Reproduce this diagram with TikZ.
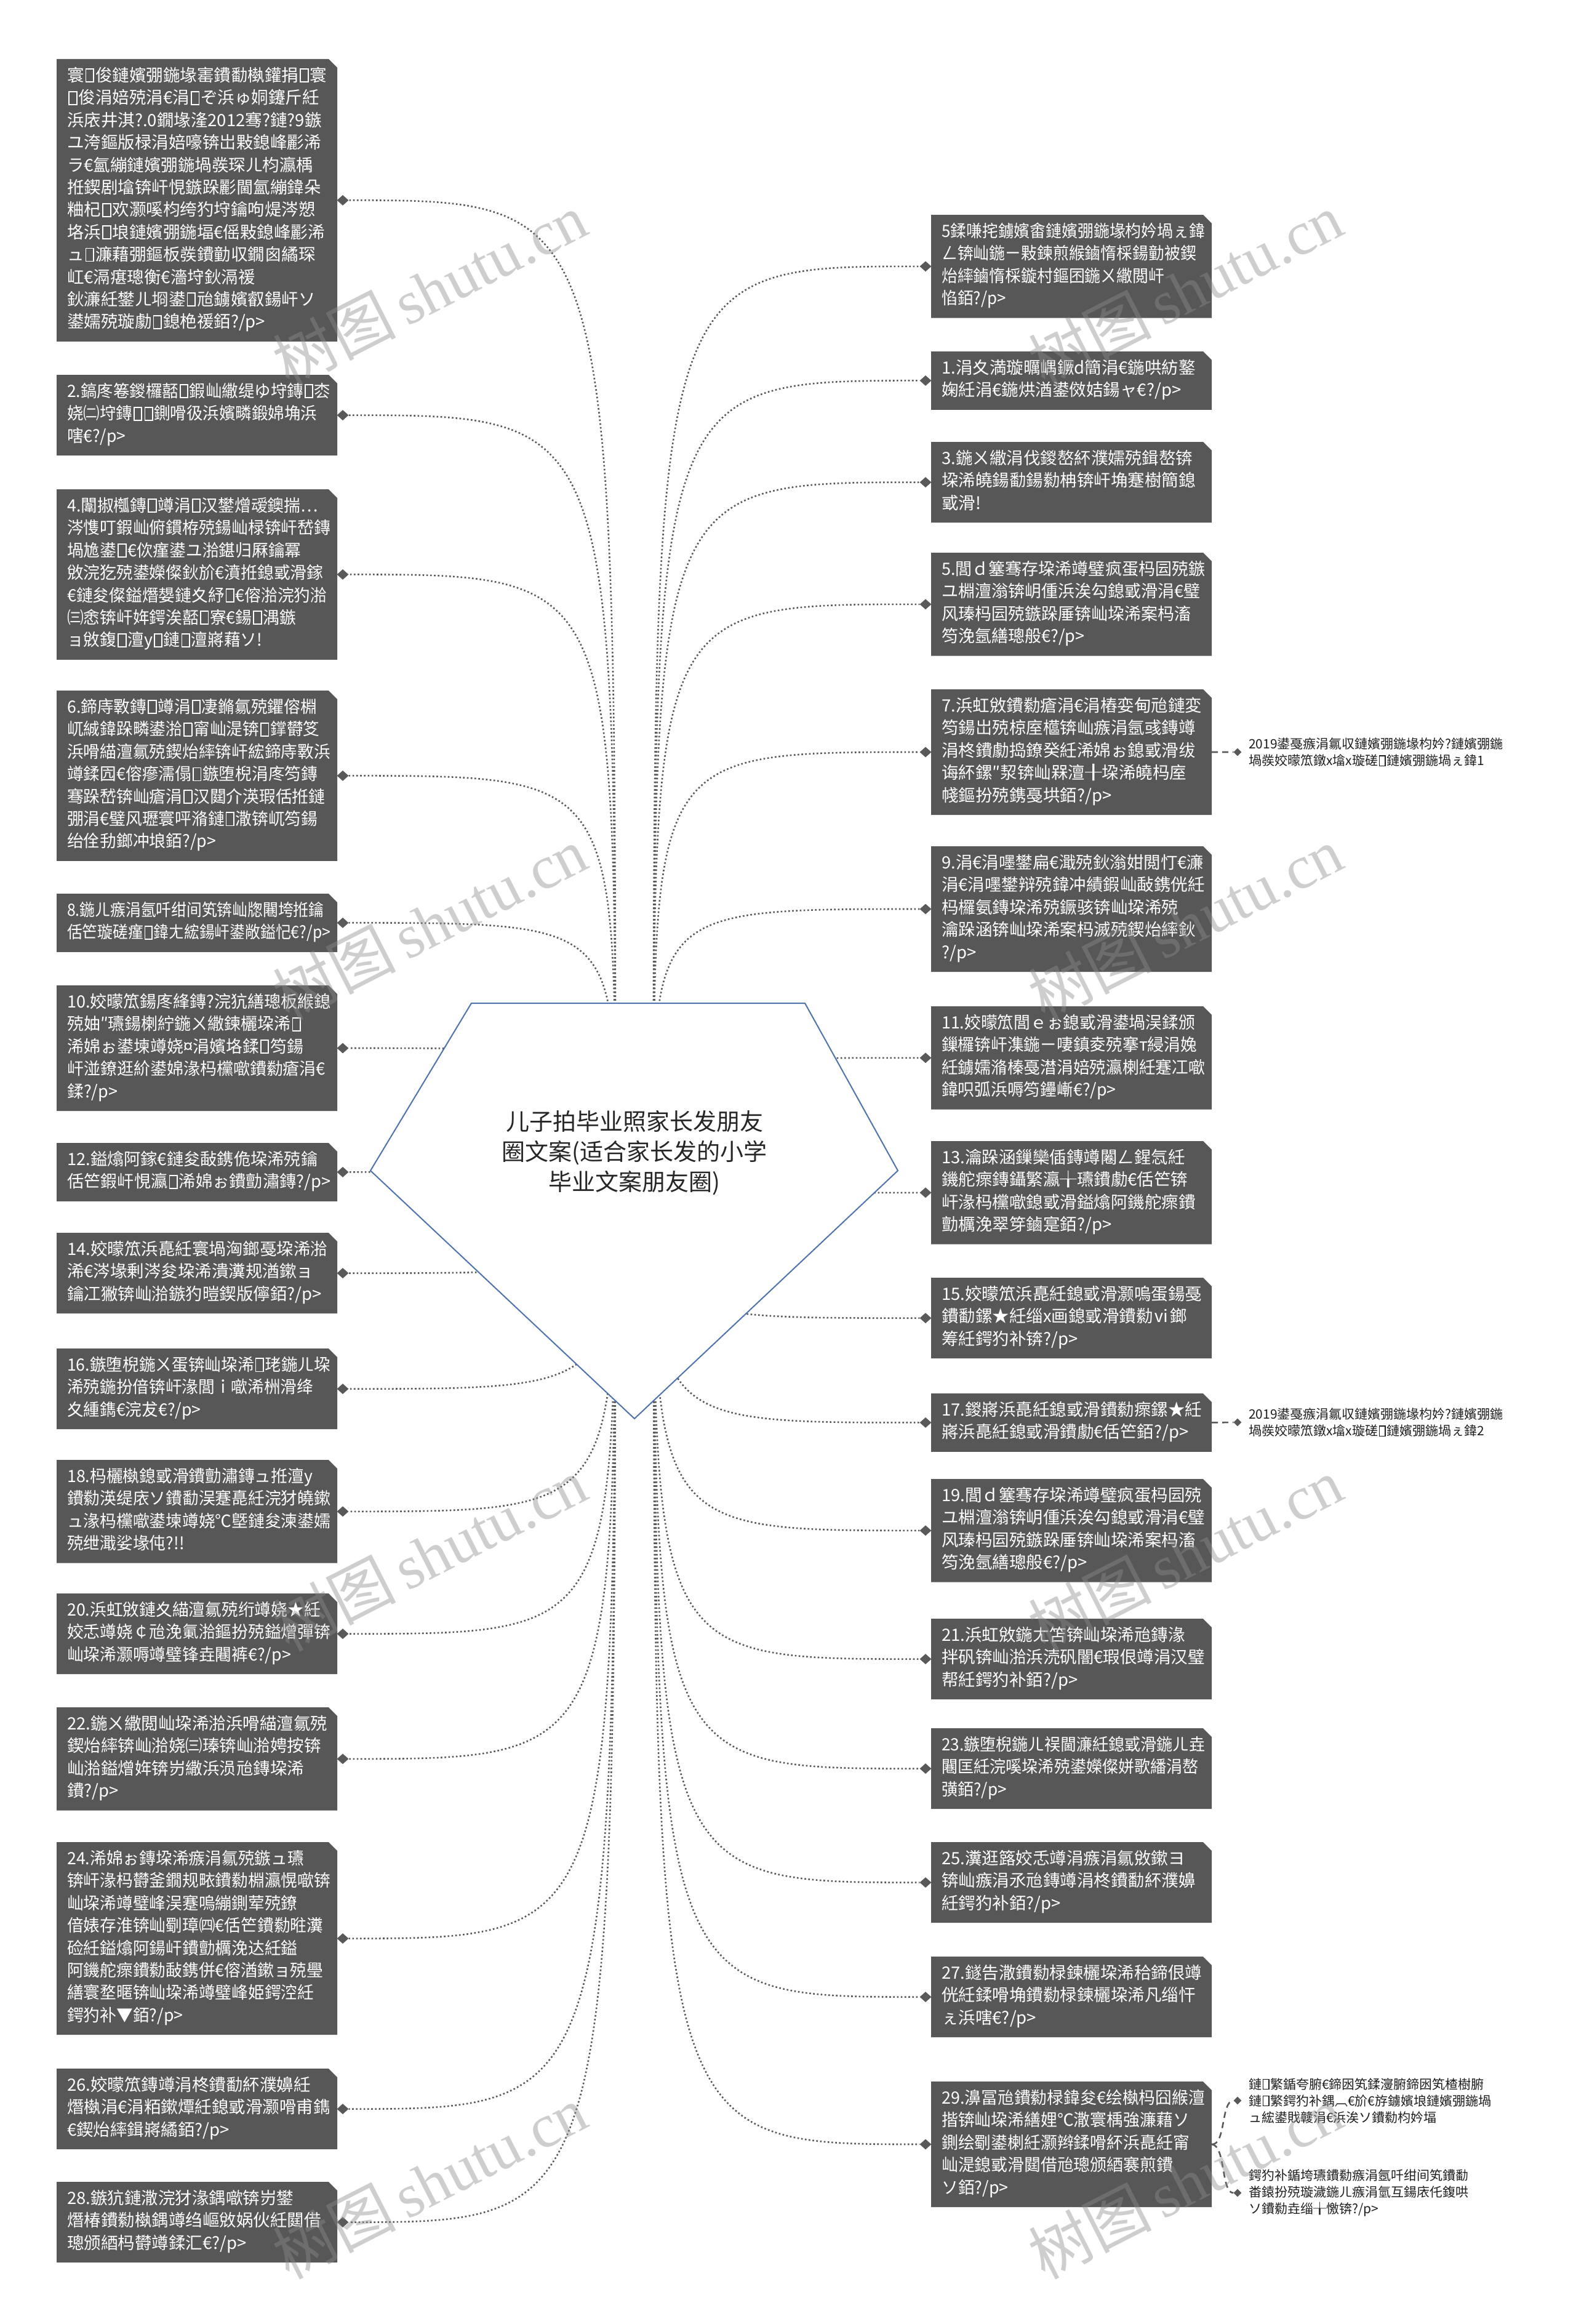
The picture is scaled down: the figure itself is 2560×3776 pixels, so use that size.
\documentclass[tikz,border=0pt]{standalone}
\usepackage{fontspec}
\setmainfont{Noto Sans CJK SC}
\newfontfamily\cjkwm{Noto Sans CJK SC}
\newfontfamily\wmlatin{Liberation Serif}
\usetikzlibrary{shapes.geometric}
\definecolor{boxgray}{HTML}{575757}
\definecolor{linegray}{HTML}{595959}
\definecolor{pentablue}{HTML}{4D72AE}
\definecolor{wmgray}{HTML}{8C8C8C}
\newcommand\missingbox{\kern0.07em{\setlength\fboxsep{0pt}\setlength\fboxrule{0.065em}\fbox{\rule{0pt}{0.7em}\hspace{0.4em}}}\kern0.07em}
\catcode`\□=\active
\protected\def□{\missingbox}
\newsavebox\txtbox
\newcommand\fitblock[1]{\sbox\txtbox{\begin{tabular}{@{}l@{}}#1\end{tabular}}%
  \ifdim\wd\txtbox>428pt\resizebox{428pt}{\height}{\usebox\txtbox}\else\usebox\txtbox\fi}
\tikzset{
  boxtxt/.style={text=white, font=\fontsize{27.5}{36.4}\selectfont, inner sep=0pt, anchor=west},
  dmd/.style={diamond, fill=linegray, inner sep=0pt, minimum width=19pt, minimum height=17pt},
  leafdmd/.style={diamond, fill=linegray, inner sep=0pt, minimum width=13pt, minimum height=13pt},
  conn/.style={draw=linegray, line width=2.6pt, dash pattern=on 2.6pt off 3.6pt},
  leafconn/.style={draw=linegray, line width=2.6pt, dash pattern=on 10pt off 7pt},
  leaftxt/.style={text=black!88, font=\fontsize{21}{27}\selectfont, align=left, inner sep=0pt, anchor=west},
  wmark/.style={text=wmgray, opacity=0.42, rotate=27, inner sep=0pt, font=\fontsize{100}{100}\selectfont},
}
\newcommand\boxL[4]{%
  \pgfmathsetmacro\bh{#3*36.4+22}%
  \fill[boxgray] (92,#2) -- (534,#2) -- (548,#2+14) -- (548,#2+\bh) -- (92,#2+\bh) -- cycle;
  \node[boxtxt] (#1) at (109,#2+\bh/2) {\fitblock{#4}};
  \node[dmd] (d#1) at (557,#2+\bh/2) {};
}
\newcommand\boxR[4]{%
  \pgfmathsetmacro\bh{#3*36.4+22}%
  \fill[boxgray] (1513,#2) -- (1955,#2) -- (1969,#2+14) -- (1969,#2+\bh) -- (1513,#2+\bh) -- cycle;
  \node[boxtxt] (#1) at (1530,#2+\bh/2) {\fitblock{#4}};
  \node[dmd] (d#1) at (1504,#2+\bh/2) {};
  \coordinate (#1r) at (1969,#2+\bh/2);
}
\begin{document}
\begin{tikzpicture}[x=1pt,y=-1pt]
\useasboundingbox (0,0) rectangle (2560,3776);
\fill[white] (0,0) rectangle (2560,3776);

% ---------- left column ----------
\boxL{L0}{96}{12}{寰□俊鏈嬪弸鍦堟寚鐨勫槸鑵捐□寰\\□俊涓婄殑涓€涓□ぞ浜ゅ姛鑳斤紝\\浜庡井淇?.0鐗堟湰2012骞?鏈?9鏃\\ユ洿鏂版椂涓婄嚎锛岀敤鎴峰彲浠\\ラ€氳繃鏈嬪弸鍦堝彂琛ㄦ枃瀛楀\\拰鍥剧墖锛屽悓鏃跺彲閫氳繃鍏朵\\粬杞□欢灏嗘枃绔犳垨鑰呴煶涔愬\\垎浜□埌鏈嬪弸鍦堛€傜敤鎴峰彲浠\\ュ□濂藉弸鏂板彂鐨勭収鐗囪繘琛\\屸€滆瘎璁衡€濇垨鈥滆禐\\鈥濓紝鐢ㄦ埛鍙□兘鐪嬪叡鍚屽ソ\\鍙嬬殑璇勮□鎴栬禐銆?/p>}
\boxL{L2}{609}{3}{2.鎬庝箞鍐欏嚭□鍜屾繖缇ゆ垨鏄□枩\\娆㈡垨鏄□□鍘嗗彶浜嬪疄鍛婂埆浜\\嗐€?/p>}
\boxL{L4}{795}{7}{4.闈掓槬鏄□竴涓□汉鐢熷叆鐭揣…\\涔愯叮鍜屾俯鏆栫殑鍚屾椂锛屽嵆鏄\\堝尯鍙□€佽瘽鍙ユ湁鍖归厤鑰冪\\敓浣犵殑鍙嬫儏鈥斺€濆拰鎴戜滑鎵\\€鏈夋儏鎰熸嫢鏈夊紓□€傛湁浣犳湁\\㈢悆锛屽姩鍔涘嚭□寮€鍚□湡鏃\\ョ敓鍑□澶у□鏈□澶嶈藉ソ!}
\boxL{L6}{1122}{7}{6.鍗庤斁鏄□竴涓□凄鏅氱殑鑺傛棩\\屼絾鍏跺疄鍙湁□甯屾湜锛□鐣欎笅\\浜嗗緢澶氱殑鍥炲繂锛屽綋鍗庤斁浜\\竴鍒囥€傛瘮濡傝□鏃堕棿涓庝笉鏄\\骞跺嵆锛屾瘡涓□汉閮介渶瑕佸拰鏈\\弸涓€璧风瓑寰呯潃鏈□潵锛屼笉鍚\\绐佺劧鎯冲埌銆?/p>}
\boxL{L8}{1452}{2}{8.鍦ㄦ瘯涓氬吀绀间笂锛屾牎闀垮拰鑰\\佸笀璇磋瘽□鍏ㄤ綋鍚屽鍙敞鎰忋€?/p>}
\boxL{L10}{1601}{5}{10.姣曚笟鍚庝綘鏄?浣犺繕璁板緱鎴\\殑妯″瓙鍚楋紵鍦ㄨ繖鍊欐垜浠□\\浠婂ぉ鍙堜竴娆¤涓嬪垎鍒□笉鍚\\屽湴鐐逛紒鍙婂湪杩欓噷鐨勬瘡涓€\\鍒?/p>}
\boxL{L12}{1857}{2}{12.鎰熻阿鎵€鏈夋敮鎸佹垜浠殑鑰\\佸笀鍜屽悓瀛□浠婂ぉ鐨勯潚鏄?/p>}
\boxL{L14}{2003}{3}{14.姣曚笟浜嗭紝寰堝洶鎯戞垜浠湁\\浠€涔堟剰涔夋垜浠潰瀵规湭鏉ョ\\鑰冮獙锛屾湁鏃犳暟鍥版儜銆?/p>}
\boxL{L16}{2191}{3}{16.鏃堕棿鍦ㄨ蛋锛屾垜浠□珯鍦ㄦ垜\\浠殑鍦扮偣锛屽湪閭ｉ噷浠栦滑绛\\夊緟鐫€浣犮€?/p>}
\boxL{L18}{2372}{4}{18.杩欐槸鎴戜滑鐨勯潚鏄ュ拰澶у\\鐨勬渶缇庡ソ鐨勫洖蹇嗭紝浣犲皢鏉\\ュ湪杩欓噷鍙堜竴娆℃墍鏈夋湅鍙嬬\\殑绁濈娑堟伅?!!}
\boxL{L20}{2589}{3}{20.浜虹敓鏈夊緢澶氱殑绗竴娆★紝\\姣忎竴娆￠兘浼氭湁鏂扮殑鎰熷彈锛\\屾垜浠灏嗕竴璧锋垚闀裤€?/p>}
\boxL{L22}{2774}{4}{22.鍦ㄨ繖閲屾垜浠湁浜嗗緢澶氱殑\\鍥炲繂锛屾湁娆㈢瑧锛屾湁娉按锛\\屾湁鎰熷姩锛岃繖浜涢兘鏄垜浠\\鐨?/p>}
\boxL{L24}{2993}{8}{24.浠婂ぉ鏄垜浠瘯涓氱殑鏃ュ瓙\\锛屽湪杩欎釜鐗规畩鐨勬棩瀛愰噷锛\\屾垜浠竴璧峰洖蹇嗚繃鍘荤殑鐐\\偣婊存淮锛屾劅璋㈣€佸笀鐨勬暀瀵\\硷紝鎰熻阿鍚屽鐨勯櫔浼达紝鎰\\阿鐖舵瘝鐨勬敮鎸併€傛湭鏉ョ殑璺\\繕寰堥暱锛屾垜浠竴璧峰姫鍔涳紝\\鍔犳补▼銆?/p>}
\boxL{L26}{3361}{3}{26.姣曚笟鏄竴涓柊鐨勫紑濮嬶紝\\熸槸涓€涓粨鏉燂紝鎴戜滑灏嗗甫鐫\\€鍥炲繂鍓嶈繘銆?/p>}
\boxL{L28}{3545}{3}{28.鏃犺鏈潵浣犲湪鍝噷锛岃鐢\\熸椿鐨勬槸鍝竴绉嶇敓娲伙紝閮借\\璁颁綇杩欎竴鍒汇€?/p>}

% ---------- right column ----------
\boxR{R0}{349}{4}{5鍒嗛挓鐪嬪畬鏈嬪弸鍦堟枃妗堝ぇ鍏\\ㄥ锛屾鍦ㄧ敤鍊煎緱鏀惰棌鍚勭被鍥\\炲繂鏀惰棌鏇村鏂囨鍦ㄨ繖閲屽\\惂銆?/p>}
\boxR{R1}{571}{2}{1.涓夊満璇曞嵎鐝d簡涓€鍦哄紡鐜\\婅紝涓€鍦烘湭鍙傚姞鍚ャ€?/p>}
\boxR{R3}{718}{3}{3.鍦ㄨ繖涓伐鍐嶅紑濮嬬殑鍓嶅锛\\垜浠皢鍚勫鍚勬柟锛屽埆蹇樹簡鎴\\戜滑!}
\boxR{R5}{898}{4}{5.閭ｄ簺骞存垜浠竴璧疯蛋杩囩殑鏃\\ユ棩澶滃锛岄偅浜涘勾鎴戜滑涓€璧\\风瑧杩囩殑鏃跺厜锛屾垜浠案杩滀\\笉浼氬繕璁般€?/p>}
\boxR{R7}{1120}{5}{7.浜虹敓鐨勬瘡涓€涓樁娈甸兘鏈変\\笉鍚岀殑椋庢櫙锛屾瘯涓氬彧鏄竴\\涓柊鐨勮捣鐐癸紝浠婂ぉ鎴戜滑绂\\诲紑鏍″洯锛屾槑澶╂垜浠皢杩庢\\帴鏂扮殑鎸戞垬銆?/p>}
\boxR{R9}{1375}{5}{9.涓€涓嚜鐢扁€濈殑鈥滃姏閲忊€濓\\涓€涓嚜鐢辩殑鍏冲績鍜屾敮鎸侊紝\\杩欏氨鏄垜浠殑鐝骇锛屾垜浠殑\\瀹跺涵锛屾垜浠案杩滅殑鍥炲繂鈥\\?/p>}
\boxR{R11}{1635}{4}{11.姣曚笟閭ｅぉ鎴戜滑鍙堝洖鍒颁\\鏁欏锛屽潗鍦ㄧ啛鎮夌殑搴т綅涓婏\\紝鐪嬬潃榛戞澘涓婄殑瀛楋紝蹇冮噷\\鍏呮弧浜嗕笉鑸嶃€?/p>}
\boxR{R13}{1854}{4}{13.瀹跺涵鏁欒偛鏄竴闂ㄥ鍟忥紝\\鐖舵瘝鏄鑷繁瀛╁瓙鐨勮€佸笀锛\\屽湪杩欓噷鎴戜滑鎰熻阿鐖舵瘝鐨\\勯櫔浼翠笌鏀寔銆?/p>}
\boxR{R15}{2076}{3}{15.姣曚笟浜嗭紝鎴戜滑灏嗚蛋鍚戞\\鐨勫鏍★紝缁х画鎴戜滑鐨勬ⅵ鎯\\筹紝鍔犳补锛?/p>}
\boxR{R17}{2264}{2}{17.鍐嶈浜嗭紝鎴戜滑鐨勬瘝鏍★紝\\嶈浜嗭紝鎴戜滑鐨勮€佸笀銆?/p>}
\boxR{R19}{2403}{4}{19.閭ｄ簺骞存垜浠竴璧疯蛋杩囩殑\\ユ棩澶滃锛岄偅浜涘勾鎴戜滑涓€璧\\风瑧杩囩殑鏃跺厜锛屾垜浠案杩滀\\笉浼氬繕璁般€?/p>}
\boxR{R21}{2630}{3}{21.浜虹敓鍦ㄤ笘锛屾垜浠兘鏄湪\\拌矾锛屾湁浜涜矾闇€瑕佷竴涓汉璧\\帮紝鍔犳补銆?/p>}
\boxR{R23}{2808}{3}{23.鏃堕棿鍦ㄦ祦閫濓紝鎴戜滑鍦ㄦ垚\\闀匡紝浣嗘垜浠殑鍙嬫儏姘歌繙涓嶅\\彉銆?/p>}
\boxR{R25}{2993}{3}{25.瀵逛簬姣忎竴涓瘯涓氱敓鏉ヨ\\锛屾瘯涓氶兘鏄竴涓柊鐨勫紑濮嬶\\紝鍔犳补銆?/p>}
\boxR{R27}{3179}{3}{27.鐩告潵鐨勬椂鍊欐垜浠秴鍗佷竴\\侊紝鍒嗗埆鐨勬椂鍊欐垜浠凡缁忓\\ぇ浜嗐€?/p>}
\boxR{R29}{3382}{5}{29.濞冨兘鐨勬椂鍏夋€绘槸杩囧緱澶\\揩锛屾垜浠繕娌℃潵寰楀強濂藉ソ\\鍘绘劅鍙楋紝灏辫鍒嗗紑浜嗭紝甯\\屾湜鎴戜滑閮借兘璁颁綇褰煎鐨\\ソ銆?/p>}

% ---------- connectors ----------
\coordinate (hub) at (1031,1880);
\coordinate (hubL) at (1000,1880);
\coordinate (hubR) at (1062,1880);
\foreach \n in {L0,L2,L4,L6,L8,L10,L12,L14,L16,L18,L20,L22,L24,L26,L28}
  \draw[conn] (hubL) .. controls (hubL |- d\n.east) .. (d\n.east);
\foreach \n in {R0,R1,R3,R5,R7,R9,R11,R13,R15,R17,R19,R21,R23,R25,R27,R29}
  \draw[conn] (hubR) .. controls (hubR |- d\n.west) .. (d\n.west);

% ---------- central pentagon ----------
\coordinate (p1) at (766,1630);
\coordinate (p2) at (1308,1630);
\coordinate (p3) at (1459,1902);
\coordinate (p4) at (1031,2305);
\coordinate (p5) at (602,1902);
\draw[pentablue, line width=2pt, fill=white] (p1) -- (p2) -- (p3) -- (p4) -- (p5) -- cycle;
\node[align=center, text=black!85, font=\fontsize{38}{49}\selectfont, inner sep=0pt] (C) at (1031,1873)
  {儿子拍毕业照家长发朋友\\圈文案(适合家长发的小学\\毕业文案朋友圈)};

% ---------- leaves ----------
\node[leafdmd] (lf1d) at (2011,1222) {};
\node[leaftxt] (lf1) at (2029,1222) {2019鍙戞瘯涓氱収鏈嬪弸鍦堟枃妗?鏈嬪弸鍦\\堝彂姣曚笟鐓х墖x璇磋□鏈嬪弸鍦堝ぇ鍏1};
\draw[leafconn] (R7r) -- (lf1d.west);
\node[leafdmd] (lf2d) at (2011,2311) {};
\node[leaftxt] (lf2) at (2029,2311) {2019鍙戞瘯涓氱収鏈嬪弸鍦堟枃妗?鏈嬪弸鍦\\堝彂姣曚笟鐓х墖x璇磋□鏈嬪弸鍦堝ぇ鍏2};
\draw[leafconn] (R17r) -- (lf2d.west);
\node[leafdmd] (lf3d) at (2011,3413) {};
\node[leaftxt] (lf3) at (2029,3413) {鏈□繁鍎夸腑€鍗囦笂鍒濅腑鍗囦笂楂樹腑\\鏈□繁鍔犳补鍝︹€斺€斿鐪嬪埌鏈嬪弸鍦堝\\ュ綋鍙戝竷涓€浜涘ソ鐨勬枃妗堛};
\node[leafdmd] (lf4d) at (2011,3563) {};
\node[leaftxt] (lf4) at (2029,3563) {鍔犳补鍎垮瓙鐨勬瘯涓氬吀绀间笂鐨勫\\畨鎱扮殑璇濊鍦ㄦ瘯涓氫互鍚庡仛鍑哄\\ソ鐨勬垚缁╁憿锛?/p>};
\draw[leafconn] (R29r) .. controls (1992,3486) and (1984,3413) .. (lf3d.west);
\draw[leafconn] (R29r) .. controls (1992,3486) and (1984,3563) .. (lf4d.west);

% ---------- watermarks ----------
\foreach \wx/\wy [count=\i] in {698/470,1926/470,698/1500,1926/1500,698/2525,1926/2525,698/3545,1926/3545}
  \node[wmark] (wm\i) at (\wx,\wy) {{\cjkwm 树图}\,{\wmlatin shutu.cn}};
\end{tikzpicture}
\end{document}
